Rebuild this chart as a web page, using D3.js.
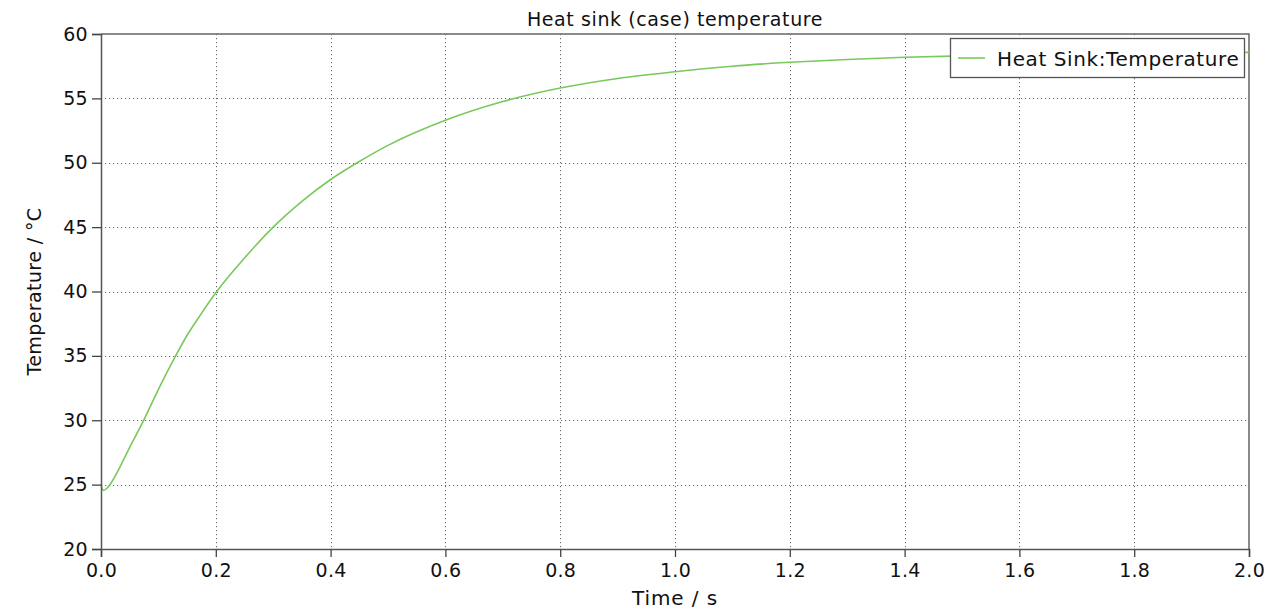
<!DOCTYPE html>
<html>
<head>
<meta charset="utf-8">
<title>Heat sink (case) temperature</title>
<script src="https://cdn.jsdelivr.net/npm/d3@7"></script>
<style>
	html, body { margin: 0; padding: 0; background: #fff; }
	#canvas { width: 1276px; height: 613px; }
	text { font-family: 'DejaVu Sans', Verdana, sans-serif; fill: #111; }
</style>
</head>
<body>
<div id="canvas"></div>
<script>
// values
const timeValues = [0, 0.004, 0.01, 0.02, 0.03, 0.04, 0.05, 0.06, 0.075, 0.1, 0.13, 0.15, 0.175, 0.2, 0.25, 0.3, 0.35, 0.4, 0.45, 0.5, 0.6, 0.7, 0.8, 0.9, 1.0, 1.1, 1.2, 1.3, 1.4, 1.5, 1.6, 1.7, 1.8, 1.9, 2.0];
const tempValues = [25.0, 24.55, 24.7, 25.3, 26.1, 27.0, 27.9, 28.75, 30.05, 32.4, 35.0, 36.6, 38.3, 39.9, 42.6, 45.0, 47.0, 48.7, 50.1, 51.35, 53.3, 54.75, 55.8, 56.55, 57.07, 57.5, 57.8, 58.02, 58.19, 58.3, 58.38, 58.44, 58.48, 58.52, 58.57];
const xTicks = [0, 0.2, 0.4, 0.6, 0.8, 1.0, 1.2, 1.4, 1.6, 1.8, 2.0];
const yTicks = [20, 25, 30, 35, 40, 45, 50, 55, 60];
const seriesName = 'Heat Sink:Temperature';
const titleText = 'Heat sink (case) temperature';
const xLabel = 'Time / s';
const yLabel = 'Temperature / °C';

const chart = {
	data: [],
	elements: {},
	dims: { width: 1276, height: 613 },
	lineColor: '#78c95c',
};

chartInit();

function chartInit() {
	chart.data = timeValues.map((t, i) => ({ t, temp: tempValues[i] }));
	chart.elements.svg = d3.select('#canvas').append('svg')
		.attr('width', chart.dims.width)
		.attr('height', chart.dims.height);
	drawChart();
}

function drawChart() {
	const { data, elements, dims } = chart;
	const { svg } = elements;
	const margins = { top: 34, bottom: 64, left: 101, right: 27 };

	const x = d3.scaleLinear().domain([0, 2]).range([margins.left, dims.width - margins.right]);
	const y = d3.scaleLinear().domain([20, 60]).range([dims.height - margins.bottom, margins.top]);

	// dotted grid
	const grid = svg.append('g').attr('id', 'grid')
		.attr('stroke', '#666')
		.attr('stroke-width', 1)
		.attr('stroke-dasharray', '1.2,2.8');
	grid.selectAll('line.v')
		.data(xTicks.slice(1, -1))
		.join('line')
		.attr('class', 'v')
		.attr('x1', d => Math.round(x(d)) + 0.5)
		.attr('x2', d => Math.round(x(d)) + 0.5)
		.attr('y1', y(60))
		.attr('y2', y(20));
	grid.selectAll('line.h')
		.data(yTicks.slice(1, -1))
		.join('line')
		.attr('class', 'h')
		.attr('y1', d => Math.round(y(d)) + 0.5)
		.attr('y2', d => Math.round(y(d)) + 0.5)
		.attr('x1', x(0))
		.attr('x2', x(2));

	// frame top / right
	svg.append('path')
		.attr('d', `M${x(0)},${y(60)}H${x(2)}V${y(20)}`)
		.attr('fill', 'none')
		.attr('stroke', '#666')
		.attr('stroke-width', 1.5);

	// series
	const line = d3.line()
		.x(d => x(d.t))
		.y(d => y(d.temp))
		.curve(d3.curveMonotoneX);
	svg.append('path')
		.datum(data)
		.attr('fill', 'none')
		.attr('stroke', chart.lineColor)
		.attr('stroke-width', 1.6)
		.attr('d', line);

	// axes
	const xAxis = svg.append('g')
		.attr('transform', `translate(0,${y(20)})`)
		.call(d3.axisBottom(x).tickValues(xTicks).tickFormat(d3.format('.1f')).tickSizeOuter(0).tickSize(8).tickPadding(7));
	const yAxis = svg.append('g')
		.attr('transform', `translate(${x(0)},0)`)
		.call(d3.axisLeft(y).tickValues(yTicks).tickSizeOuter(0).tickSize(9).tickPadding(4));
	[xAxis, yAxis].forEach(ax => {
		ax.selectAll('path').attr('stroke', '#555').attr('stroke-width', 1.5);
		ax.selectAll('line').attr('stroke', '#444').attr('stroke-width', 1.3);
		ax.selectAll('text').style('font-size', '19px').style('letter-spacing', '0.3px').attr('fill', '#111');
		ax.attr('font-family', null);
	});

	// title + axis labels
	svg.append('text')
		.attr('x', x(1))
		.attr('y', 26)
		.attr('text-anchor', 'middle')
		.style('font-size', '19px')
		.style('letter-spacing', '0.6px')
		.text(titleText);
	svg.append('text')
		.attr('x', x(1))
		.attr('y', 605)
		.attr('text-anchor', 'middle')
		.style('font-size', '20px')
		.style('letter-spacing', '0.9px')
		.text(xLabel);
	svg.append('text')
		.attr('transform', `translate(41,${y(40)}) rotate(-90)`)
		.attr('text-anchor', 'middle')
		.style('font-size', '19px')
		.style('letter-spacing', '0.4px')
		.text(yLabel);

	// legend
	const legend = svg.append('g').attr('id', 'legend');
	legend.append('rect')
		.attr('x', 950.5)
		.attr('y', 38.5)
		.attr('width', 294)
		.attr('height', 39)
		.attr('fill', '#fff')
		.attr('stroke', '#555')
		.attr('stroke-width', 1.3);
	legend.append('line')
		.attr('x1', 958)
		.attr('x2', 985)
		.attr('y1', 58)
		.attr('y2', 58)
		.attr('stroke', chart.lineColor)
		.attr('stroke-width', 1.6);
	legend.append('text')
		.attr('x', 997)
		.attr('y', 66)
		.style('font-size', '20px')
		.style('letter-spacing', '0.6px')
		.text(seriesName);
}
</script>
</body>
</html>
